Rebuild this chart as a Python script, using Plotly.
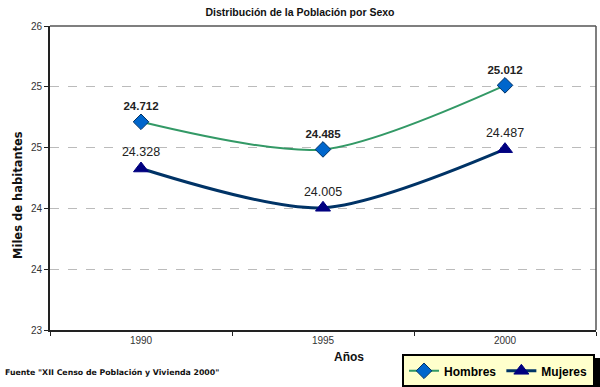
import plotly.graph_objects as go

years = ["1990", "1995", "2000"]
hombres = [24.712, 24.485, 25.012]
mujeres = [24.328, 24.005, 24.487]
hombres_labels = ["24.712", "24.485", "25.012"]
mujeres_labels = ["24.328", "24.005", "24.487"]
y_tickvals = [23.0, 23.5, 24.0, 24.5, 25.0, 25.5]
y_ticktext = ["23", "24", "24", "25", "25", "26"]

fig = go.Figure()
fig.add_trace(go.Scatter(
    x=years, y=hombres, name="Hombres", mode="lines+markers+text",
    line=dict(color="#339966", width=2, shape="spline", smoothing=0.8),
    marker=dict(symbol="diamond", size=12, color="#0066CC", line=dict(color="#003366", width=1)),
    text=hombres_labels, textposition="top center",
    textfont=dict(family="Arial", size=11.5, color="#222222", weight="bold"),
    cliponaxis=False,
))
fig.add_trace(go.Scatter(
    x=years, y=mujeres, name="Mujeres", mode="lines+markers+text",
    line=dict(color="#003366", width=3, shape="spline", smoothing=0.8),
    marker=dict(symbol="triangle-up", size=13, color="#000080", line=dict(color="#000080", width=1)),
    text=mujeres_labels, textposition="top center",
    textfont=dict(family="Arial", size=12.5, color="#222222"),
    cliponaxis=False,
))

fig.update_layout(
    width=600, height=387,
    margin=dict(l=50, r=4, t=26, b=57, autoexpand=False),
    paper_bgcolor="white", plot_bgcolor="white",
    title=dict(text="<b>Distribución de la Población por Sexo</b>", x=0.5, xanchor="center",
               y=0.969, yanchor="middle",
               font=dict(family="Arial", size=10.5, color="#111111")),
    showlegend=True,
    legend=dict(orientation="h", x=0.9982, xanchor="right", y=-0.08, yanchor="top",
                bgcolor="#FFFFCC", bordercolor="#000000", borderwidth=2,
                font=dict(family="Arial", size=12, color="#000000", weight="bold"),
                tracegroupgap=0),
    xaxis=dict(type="category", range=[-0.5, 2.5], tickson="boundaries",
               ticks="outside", ticklen=4, tickcolor="#222222",
               showline=True, linecolor="#222222", linewidth=2, mirror=False,
               showgrid=False, tickfont=dict(family="Arial", size=10, color="#333333")),
    yaxis=dict(range=[23.0, 25.5], tickvals=y_tickvals, ticktext=y_ticktext,
               ticks="outside", ticklen=4, tickcolor="#222222",
               showline=True, linecolor="#222222", linewidth=2,
               showgrid=True, gridcolor="#BBBBBB", griddash="dash", gridwidth=1,
               zeroline=False, tickfont=dict(family="Arial", size=10, color="#333333")),
)

# plot border (top/right, gray)
fig.add_shape(type="line", xref="paper", yref="paper", x0=0, x1=1, y0=1, y1=1,
              line=dict(color="#555555", width=1.5))
fig.add_shape(type="line", xref="paper", yref="paper", x0=1, x1=1, y0=0, y1=1,
              line=dict(color="#555555", width=1.5))
# legend shadow
fig.add_shape(type="rect", xref="paper", yref="paper",
              x0=(405 - 50) / 546, x1=(600 - 50) / 546,
              y0=(330 - 390) / 304, y1=(330 - 358) / 304,
              fillcolor="#000000", line=dict(width=0))

fig.add_annotation(text="<b>Miles de habitantes</b>", xref="paper", yref="paper",
                   x=-41 / 546, y=(330 - 195) / 304, textangle=-90, showarrow=False,
                   font=dict(family="DejaVu Sans", size=11.5, color="#111111"))
fig.add_annotation(text="<b>Años</b>", xref="paper", yref="paper",
                   x=(349 - 50) / 546, y=(330 - 366) / 304, showarrow=False,
                   font=dict(family="Arial", size=12, color="#111111"))
fig.add_annotation(text="<b>Fuente \"XII Censo de Población y Vivienda 2000\"</b>", xref="paper", yref="paper",
                   x=-47 / 546, xanchor="left", y=(330 - 379) / 304, showarrow=False,
                   font=dict(family="DejaVu Sans", size=7.8, color="#111111"))

fig.write_html("out.html", config={"displayModeBar": False},
               post_script="document.body.style.margin='0';document.body.style.overflow='hidden';")
